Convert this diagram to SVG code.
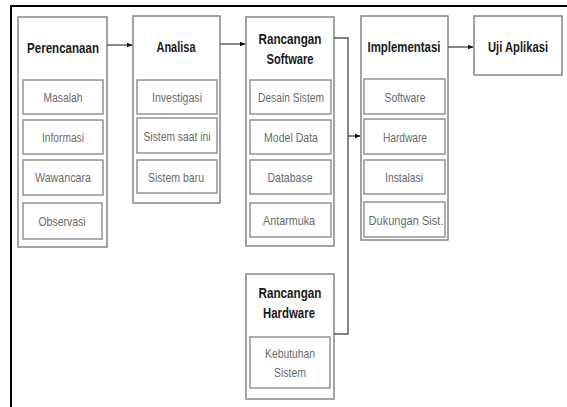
<svg xmlns="http://www.w3.org/2000/svg" width="567" height="407" viewBox="0 0 567 407">
<style>
.box{fill:#fff;stroke:#8c8c8c;stroke-width:1.6}
.sub{fill:#fff;stroke:#8c8c8c;stroke-width:1.4}
.t{font-family:"Liberation Sans",Arial,sans-serif;font-size:15px;fill:#1a1a1a;text-anchor:middle;font-weight:bold}
.s{font-family:"Liberation Sans",Arial,sans-serif;font-size:13.5px;fill:#6a6a6a;text-anchor:middle}
.c{fill:none;stroke:#555;stroke-width:1.4}
</style>
<defs>
<marker id="ah" viewBox="0 0 10 10" refX="9" refY="5" markerWidth="6" markerHeight="6" orient="auto" markerUnits="userSpaceOnUse">
<path d="M0,1 L10,5 L0,9 z" fill="#111"/>
</marker>
</defs>
<rect width="567" height="407" fill="#fff"/>
<path d="M11,407 V6 H567" fill="none" stroke="#000" stroke-width="2"/>

<g id="perencanaan">
<rect class="box" x="18" y="17" width="89" height="230"/>
<text class="t" x="63" y="53" textLength="72" lengthAdjust="spacingAndGlyphs">Perencanaan</text>
<rect class="sub" x="23" y="80" width="80" height="34"/>
<text class="s" x="63" y="102" textLength="39" lengthAdjust="spacingAndGlyphs">Masalah</text>
<rect class="sub" x="23" y="120" width="80" height="34"/>
<text class="s" x="63" y="142" textLength="42" lengthAdjust="spacingAndGlyphs">Informasi</text>
<rect class="sub" x="23" y="160" width="80" height="35"/>
<text class="s" x="63" y="182" textLength="56" lengthAdjust="spacingAndGlyphs">Wawancara</text>
<rect class="sub" x="23" y="203" width="79" height="36"/>
<text class="s" x="62" y="226" textLength="47" lengthAdjust="spacingAndGlyphs">Observasi</text>
</g>

<g id="analisa">
<rect class="box" x="133" y="16" width="87" height="187"/>
<text class="t" x="176" y="52" textLength="39" lengthAdjust="spacingAndGlyphs">Analisa</text>
<rect class="sub" x="137" y="80" width="80" height="34"/>
<text class="s" x="177" y="102" textLength="50" lengthAdjust="spacingAndGlyphs">Investigasi</text>
<rect class="sub" x="137" y="118" width="80" height="35"/>
<text class="s" x="177" y="140.5" textLength="67" lengthAdjust="spacingAndGlyphs">Sistem saat ini</text>
<rect class="sub" x="137" y="160" width="80" height="33"/>
<text class="s" x="176" y="181.5" textLength="56" lengthAdjust="spacingAndGlyphs">Sistem baru</text>
</g>

<g id="rancangan-software">
<rect class="box" x="246" y="17" width="88" height="229"/>
<text class="t" x="290" y="44" textLength="63" lengthAdjust="spacingAndGlyphs">Rancangan</text>
<text class="t" x="290" y="64" textLength="47" lengthAdjust="spacingAndGlyphs">Software</text>
<rect class="sub" x="250" y="80" width="81" height="34"/>
<text class="s" x="291" y="102" textLength="66" lengthAdjust="spacingAndGlyphs">Desain Sistem</text>
<rect class="sub" x="250" y="120" width="81" height="34"/>
<text class="s" x="291" y="142" textLength="54" lengthAdjust="spacingAndGlyphs">Model Data</text>
<rect class="sub" x="250" y="160" width="81" height="34"/>
<text class="s" x="290" y="182" textLength="45" lengthAdjust="spacingAndGlyphs">Database</text>
<rect class="sub" x="250" y="203" width="81" height="34"/>
<text class="s" x="289" y="225" textLength="52" lengthAdjust="spacingAndGlyphs">Antarmuka</text>
</g>

<g id="rancangan-hardware">
<rect class="box" x="246" y="274" width="88" height="125"/>
<text class="t" x="290" y="298" textLength="63" lengthAdjust="spacingAndGlyphs">Rancangan</text>
<text class="t" x="289" y="318" textLength="52" lengthAdjust="spacingAndGlyphs">Hardware</text>
<rect class="sub" x="250" y="337" width="80" height="51"/>
<text class="s" x="290" y="358" textLength="50" lengthAdjust="spacingAndGlyphs">Kebutuhan</text>
<text class="s" x="290" y="377" textLength="32" lengthAdjust="spacingAndGlyphs">Sistem</text>
</g>

<g id="implementasi">
<rect class="box" x="361" y="16" width="87" height="224"/>
<text class="t" x="404" y="52" textLength="73" lengthAdjust="spacingAndGlyphs">Implementasi</text>
<rect class="sub" x="364" y="79" width="81" height="35"/>
<text class="s" x="405" y="101.5" textLength="41" lengthAdjust="spacingAndGlyphs">Software</text>
<rect class="sub" x="364" y="119" width="81" height="35"/>
<text class="s" x="405" y="141.5" textLength="44" lengthAdjust="spacingAndGlyphs">Hardware</text>
<rect class="sub" x="364" y="160" width="81" height="34"/>
<text class="s" x="404" y="182" textLength="38" lengthAdjust="spacingAndGlyphs">Instalasi</text>
<rect class="sub" x="364" y="202" width="81" height="35"/>
<text class="s" x="406" y="224.5" textLength="75" lengthAdjust="spacingAndGlyphs">Dukungan Sist.</text>
</g>

<g id="uji-aplikasi">
<rect class="box" x="474" y="16" width="88" height="59"/>
<text class="t" x="518" y="52" textLength="60" lengthAdjust="spacingAndGlyphs">Uji Aplikasi</text>
</g>

<g id="connectors">
<path class="c" d="M107,45 H132" marker-end="url(#ah)"/>
<path class="c" d="M220,44 H245" marker-end="url(#ah)"/>
<path class="c" d="M334,38 H348 V334 H334"/>
<path class="c" d="M348,136 H360" marker-end="url(#ah)"/>
<path class="c" d="M448,47 H473" marker-end="url(#ah)"/>
</g>
</svg>
